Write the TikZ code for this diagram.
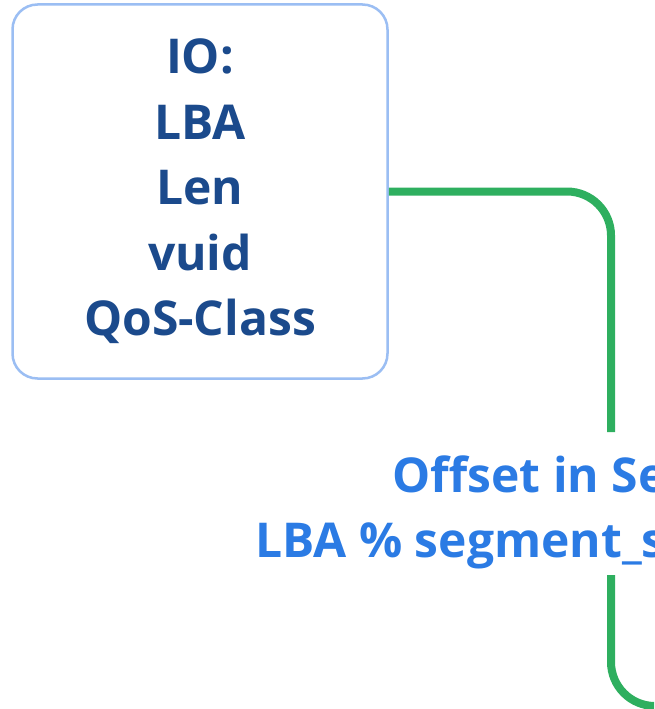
\documentclass[tikz,border=0pt]{standalone}
\usepackage{fontspec}
\setmainfont{Open Sans}
\definecolor{boxline}{HTML}{9BBEF3}
\definecolor{boxtext}{HTML}{1B4A8C}
\definecolor{lbltext}{HTML}{2B7BE4}
\definecolor{connline}{HTML}{2EAF5F}
\begin{document}
\begin{tikzpicture}[x=1pt,y=-1pt,
  iobox/.style={draw=boxline, line width=2.5pt, rounded corners=25pt,
    minimum width=375pt, minimum height=374pt, fill=white,
    align=center, text=boxtext,
    font={\fontsize{48}{65.5}\selectfont\bfseries}},
  lbl/.style={align=left, text=lbltext, inner sep=0pt,
    font={\fontsize{48}{65}\selectfont\bfseries}},
  conn/.style={draw=connline, line width=8pt, rounded corners=44pt}]
\useasboundingbox (0,0) rectangle (654,709);
\clip (0,0) rectangle (654,709);
\node[iobox] (io) at (200,191.5) {IO:\\LBA\\Len\\vuid\\QoS-Class};
\coordinate (gaptop) at (611,432);
\coordinate (gapbot) at (611,575);
\coordinate (far) at (720,706);
\draw[conn] (io.east) -| (gaptop);
\draw[conn] (gapbot) |- (far);
\node[lbl, anchor=base west] (off) at (255,557) {\hspace*{137pt}Offset in Segment\\LBA \% segment\_size};
\end{tikzpicture}
\end{document}
